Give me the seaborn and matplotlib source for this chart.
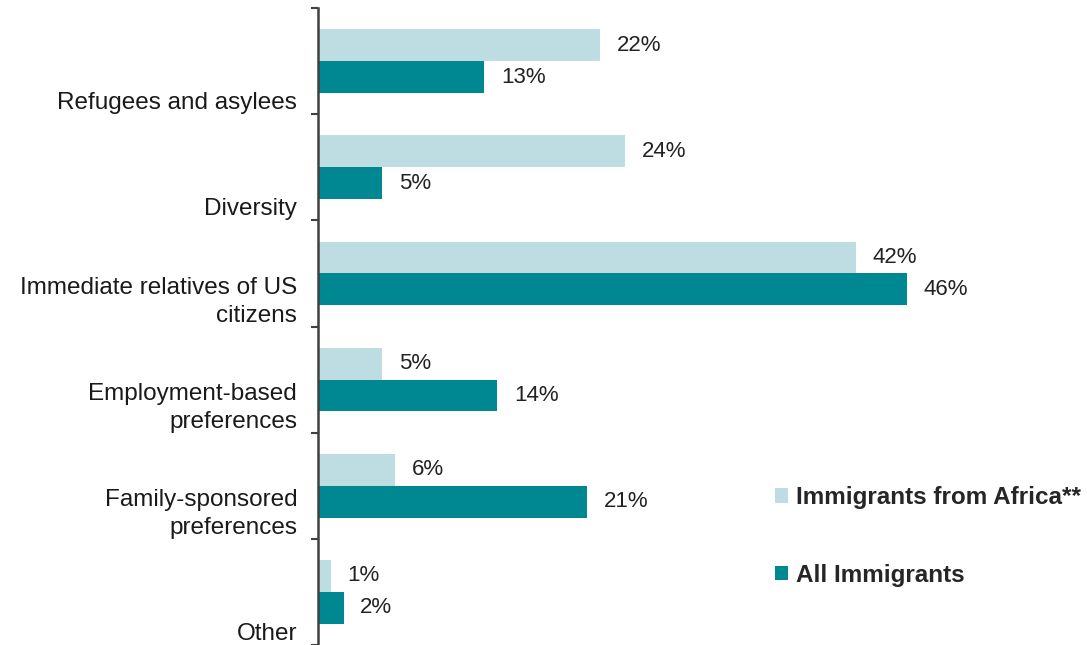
"""
Gráfico de barras horizontales: clases de admisión, inmigrantes de África vs todos.
"""
import pandas as pd
import matplotlib
matplotlib.use("Agg")
import matplotlib.pyplot as plt
import seaborn as sns

categorias = [
    "Refugees and asylees",
    "Diversity",
    "Immediate relatives of US\ncitizens",
    "Employment-based\npreferences",
    "Family-sponsored\npreferences",
    "Other",
]
series = ["Immigrants from Africa**", "All Immigrants"]
africa = [22, 24, 42, 5, 6, 1]
todos = [13, 5, 46, 14, 21, 2]

colores = ["#BEDDE2", "#008892"]


def run_plot():
    df = pd.DataFrame({
        "categoria": categorias * 2,
        "serie": [series[0]] * len(categorias) + [series[1]] * len(categorias),
        "valor": africa + todos,
    })

    sns.set_theme(style="white")
    plt.rcParams["font.family"] = ["Liberation Sans", "DejaVu Sans"]

    fig = plt.figure(figsize=(10.87, 6.45), dpi=100)
    ax = fig.add_axes([318 / 1087, 0, (1080 - 318) / 1087, 1 - 8 / 645])

    sns.barplot(data=df, y="categoria", x="valor", hue="serie", orient="h",
                palette=colores, width=0.6, linewidth=0, saturation=1,
                order=categorias, hue_order=series, ax=ax)

    # etiquetas de valor a la derecha de cada barra
    for cont in ax.containers:
        vals = [int(round(b.get_width())) for b in cont]
        ax.bar_label(cont, labels=[f"{v}%" for v in vals], padding=12,
                     fontsize=16, color="#222222")

    ax.set_xlim(0, 59.5)
    ax.set_ylim(len(categorias) - 0.5, -0.5)
    ax.set_xlabel("")
    ax.set_ylabel("")
    ax.set_xticks([])

    # marcas en los límites de cada grupo, etiqueta apoyada sobre la marca
    limites = [i - 0.5 for i in range(len(categorias) + 1)]
    ax.set_yticks(limites)
    ax.set_yticklabels([""] + categorias, fontsize=17.5, color="#1a1a1a",
                       linespacing=1.35)
    for t in ax.get_yticklabels():
        t.set_verticalalignment("bottom")
    ax.tick_params(axis="y", left=True, length=5, width=1.5, color="#404040", pad=10)

    for s in ["top", "right", "bottom"]:
        ax.spines[s].set_visible(False)
    ax.spines["left"].set_color("#404040")
    ax.spines["left"].set_linewidth(1.8)

    # leyenda a la derecha, en posición de figura
    ax_x0 = 318 / 1087
    ax_w = (1080 - 318) / 1087
    ax_h = 1 - 8 / 645
    lx = (775 / 1087 - ax_x0) / ax_w
    ly = (1 - 486 / 645) / ax_h
    sns.move_legend(ax, "upper left", bbox_to_anchor=(lx, ly), frameon=False,
                    title=None, prop={"weight": "bold", "size": 17.5},
                    labelspacing=2.25, handlelength=0.55, handleheight=0.55,
                    handletextpad=0.3, borderpad=0, borderaxespad=0)

    fig.savefig("out.png", dpi=100)


if __name__ == "__main__":
    run_plot()
